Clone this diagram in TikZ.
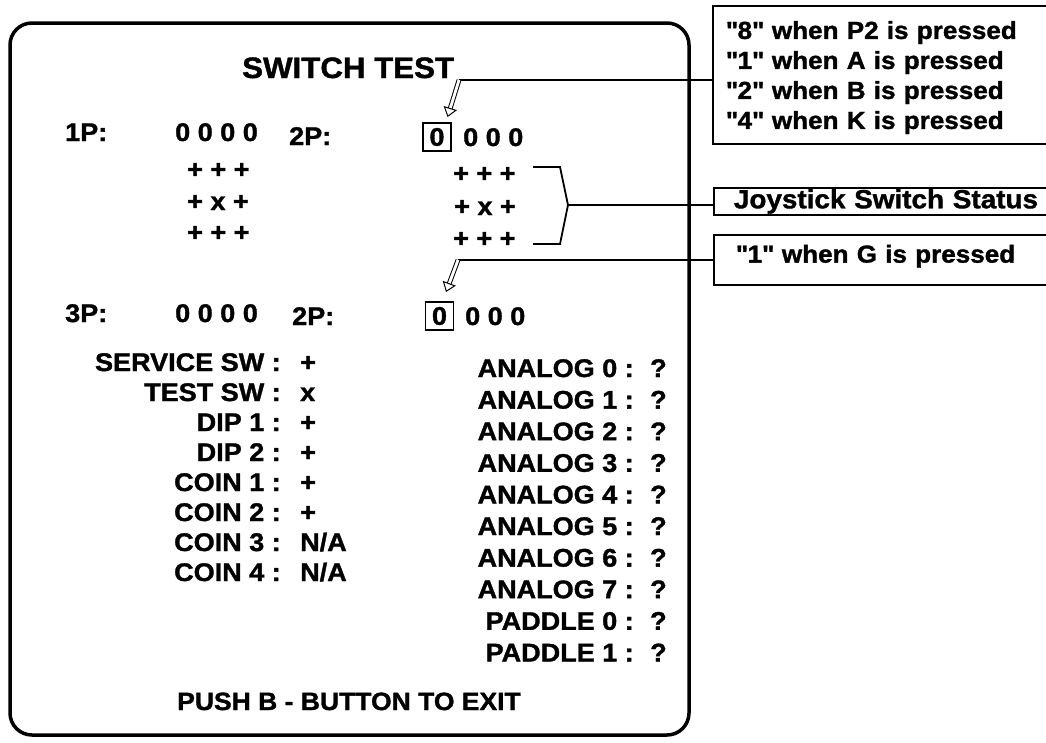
\documentclass[tikz,border=0pt]{standalone}
\usepackage{fontspec}
\setmainfont{Liberation Sans}[BoldFeatures={FakeBold=1.3,FakeStretch=1.06}]
\usetikzlibrary{calc}
\newcommand\bdy{\fontsize{25.5}{30}\selectfont\bfseries}
\newcommand\nts{\fontsize{24.6}{30}\selectfont\bfseries}
\newcommand\ttl{\fontsize{29.5}{36}\selectfont\bfseries}
\newcommand\qq{\textquotedbl}
\newcommand\hollowarrow[3]{%
  \coordinate (#3n) at ($(#2)!8pt!(#1)$);
  \coordinate (#3l) at ($(#3n)!6pt!90:(#2)$);
  \coordinate (#3r) at ($(#3n)!6pt!-90:(#2)$);
  \draw[line width=1pt, double distance=2.8pt] (#1) -- (#3n);
  \draw[line width=1pt, fill=white, line join=miter] (#2) -- (#3l) -- (#3r) -- cycle;
}
\begin{document}
\begin{tikzpicture}[x=1pt,y=-1pt,
  txt/.style={inner sep=0pt, font=\bdy},
  lab/.style={txt, anchor=base east},
  val/.style={txt, anchor=base west},
  zbox/.style={draw, line width=1.6pt, inner sep=0pt, minimum width=28pt, minimum height=28pt, font=\bdy},
  notebox/.style={draw, line width=1.8pt, font=\nts, align=left},
  lead/.style={line width=1.8pt},
  frame/.style={line width=3.5pt, rounded corners=22pt}]
\useasboundingbox (0,0) rectangle (1046,742);
\clip (0,0) rectangle (1046,742);
% screen frame
\draw[frame] (10,23) rectangle (689,735);
% title
\node[txt, font=\ttl, anchor=base west] (title) at (242,78) {SWITCH TEST};
% player rows
\node[val] (p1l) at (65,141) {1P:};
\node[val] (p1v) at (175,141) {0 0 0 0};
\node[val] (j1a) at (187,178) {+ + +};
\node[val] (j1b) at (187,210) {+ x +};
\node[val] (j1c) at (187,241) {+ + +};
\node[val] (p2l) at (289,145) {2P:};
\node[zbox] (p2b) at (437,137) {0};
\node[val] (p2v) at (463,146) {0 0 0};
\node[val] (j2a) at (453,182) {+ + +};
\node[val] (j2b) at (454,215) {+ x +};
\node[val] (j2c) at (453,247) {+ + +};
\node[val] (p3l) at (65,322) {3P:};
\node[val] (p3v) at (175,322) {0 0 0 0};
\node[val] (p4l) at (292,325) {2P:};
\node[zbox] (p4b) at (439.5,316) {0};
\node[val] (p4v) at (465,325) {0 0 0};
% left column
\node[lab] (ssw) at (281,371) {SERVICE SW :};
\node[val] (sswv) at (300,371) {+};
\node[lab] (tsw) at (281,401) {TEST SW :};
\node[val] (tswv) at (300,401) {x};
\node[lab] (dip1) at (281,431) {DIP 1 :};
\node[val] (dip1v) at (300,431) {+};
\node[lab] (dip2) at (281,461) {DIP 2 :};
\node[val] (dip2v) at (300,461) {+};
\node[lab] (coin1) at (281,491) {COIN 1 :};
\node[val] (coin1v) at (300,491) {+};
\node[lab] (coin2) at (281,521) {COIN 2 :};
\node[val] (coin2v) at (300,521) {+};
\node[lab] (coin3) at (281,551) {COIN 3 :};
\node[val] (coin3v) at (300,551) {N/A};
\node[lab] (coin4) at (281,581) {COIN 4 :};
\node[val] (coin4v) at (300,581) {N/A};
% right column
\foreach \i in {0,...,7}{
  \node[lab] (an\i) at (634,{377+31.6*\i}) {ANALOG \i{} :};
  \node[val] (an\i v) at (650,{377+31.6*\i}) {?};
}
\node[lab] (pd0) at (634,629.8) {PADDLE 0 :};
\node[val] (pd0v) at (650,629.8) {?};
\node[lab] (pd1) at (634,661.4) {PADDLE 1 :};
\node[val] (pd1v) at (650,661.4) {?};
% exit line
\node[val, font=\fontsize{25}{30}\selectfont\bfseries] (push) at (177,710) {PUSH B - BUTTON TO EXIT};
% notes
\node[notebox, anchor=north west, inner xsep=13pt, text width=334pt, minimum height=138pt, text height=18.6pt, text depth=90.6pt] (note1) at (712,5)
  {\qq8\qq{} when P2 is pressed\\\qq1\qq{} when A is pressed\\\qq2\qq{} when B is pressed\\\qq4\qq{} when K is pressed};
\node[notebox, font=\fontsize{26.3}{30}\selectfont\bfseries, anchor=west, inner xsep=20pt, inner ysep=0pt, text width=320pt, minimum height=27pt] (note2) at (713,201.5)
  {Joystick Switch Status};
\node[notebox, anchor=west, inner xsep=22pt, inner ysep=0pt, text width=316pt, minimum height=50pt, text depth=12.6pt] (note3) at (713,260)
  {\qq1\qq{} when G is pressed};
% leader to note1 with hollow arrow
\coordinate (a1t) at (459,80);
\coordinate (a1h) at ($(p2b.north east)+(-4,-6)$);
\draw[lead] (a1t) -- (a1t -| note1.west);
\hollowarrow{a1t}{a1h}{ha1}
% bracket to note2
\coordinate (b1) at (533,167);
\coordinate (b2) at (560,167);
\coordinate (bx) at (568,205);
\coordinate (b4) at (560,244);
\coordinate (b5) at (533,244);
\draw[lead] (b1) -- (b2) -- (bx) -- (b4) -- (b5);
\draw[lead] (bx) -- (bx -| note2.west);
% leader to note3 with hollow arrow
\coordinate (a2t) at (458,260);
\coordinate (a2h) at ($(p4b.north east)+(-8,-10)$);
\draw[lead] (a2t) -- (a2t -| note3.west);
\hollowarrow{a2t}{a2h}{ha2}
\end{tikzpicture}
\end{document}
